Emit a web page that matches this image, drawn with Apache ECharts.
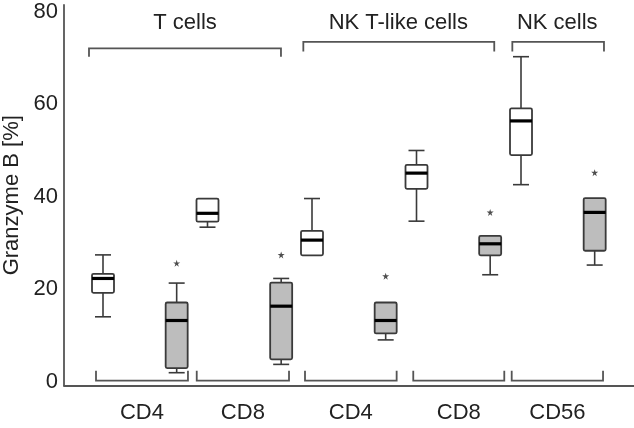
<!DOCTYPE html>
<html>
<head>
<meta charset="utf-8">
<script src="https://cdn.jsdelivr.net/npm/echarts@6/dist/echarts.min.js"></script>
<style>html,body{margin:0;padding:0;background:#fff;}#c{width:634px;height:428px;}</style>
</head>
<body>
<div id="c"></div>
<script>
// ---- data ----
const subsetLabels = ['CD4', 'CD8', 'CD4', 'CD8', 'CD56'];
const cellTypes = ['T cells', 'NK T-like cells', 'NK cells'];
// [min, Q1, median, Q3, max]
const whiteBoxes = [
  [14.0, 19.2, 22.3, 23.3, 27.4],
  [33.4, 34.6, 36.4, 39.6, 39.6],
  [27.3, 27.3, 30.6, 32.6, 39.6],
  [34.7, 41.7, 45.1, 46.9, 50.0],
  [42.6, 49.0, 56.4, 59.1, 70.3]
];
const grayBoxes = [
  [1.9, 2.9, 13.2, 17.1, 21.3],
  [3.7, 4.8, 16.3, 21.4, 22.3],
  [9.0, 10.4, 13.2, 17.1, 17.1],
  [23.1, 27.3, 29.8, 31.5, 31.5],
  [25.2, 28.3, 36.6, 39.7, 39.7]
];
const grayOutliers = [25.6, 27.4, 22.8, 36.6, 45.2];
const yTicks = [0, 20, 40, 60, 80];

// ---- annotation layout (axis units) ----
const grayOffset = 0.705;
const bottomBrackets = [[-0.067, 0.813], [0.897, 1.780], [1.933, 2.810], [2.969, 3.840], [3.911, 4.785]];
const topBrackets = [[-0.134, 1.703, 72.1, 70.3], [1.917, 3.744, 73.5, 71.4], [3.917, 4.794, 73.5, 71.4]];
const topTextX = [0.785, 2.826, 4.347];
const labelCenters = bottomBrackets.map(b => (b[0] + b[1]) / 2);

const FONT = 'Liberation Sans, Arial, Helvetica, sans-serif';
const TXT = '#222';
const LINE = '#3a3a3a';

const boxData = [];
whiteBoxes.forEach((b, i) => boxData.push([i].concat(b).concat([0])));
grayBoxes.forEach((b, i) => boxData.push([i + grayOffset].concat(b).concat([1])));

function renderBox(params, api) {
  const x = api.value(0);
  const vmin = api.value(1), q1 = api.value(2), med = api.value(3), q3 = api.value(4), vmax = api.value(5);
  const gray = api.value(6) === 1;
  const pMin = api.coord([x, vmin]), pQ1 = api.coord([x, q1]), pMed = api.coord([x, med]);
  const pQ3 = api.coord([x, q3]), pMax = api.coord([x, vmax]);
  const cx = pMin[0];
  const hw = 11, cw = 8;
  const ls = { stroke: LINE, lineWidth: 1.6 };
  const children = [];
  if (vmax > q3) {
    children.push({ type: 'line', shape: { x1: cx, y1: pQ3[1], x2: cx, y2: pMax[1] }, style: ls });
    children.push({ type: 'line', shape: { x1: cx - cw, y1: pMax[1], x2: cx + cw, y2: pMax[1] }, style: ls });
  }
  if (vmin < q1) {
    children.push({ type: 'line', shape: { x1: cx, y1: pQ1[1], x2: cx, y2: pMin[1] }, style: ls });
    children.push({ type: 'line', shape: { x1: cx - cw, y1: pMin[1], x2: cx + cw, y2: pMin[1] }, style: ls });
  }
  children.push({ type: 'rect', shape: { x: cx - hw, y: pQ3[1], width: 2 * hw, height: pQ1[1] - pQ3[1], r: 1.5 },
    style: { fill: gray ? '#bdbdbd' : '#fff', stroke: LINE, lineWidth: 1.8 } });
  children.push({ type: 'line', shape: { x1: cx - hw, y1: pMed[1], x2: cx + hw, y2: pMed[1] }, style: { stroke: '#000', lineWidth: 3.2 } });
  return { type: 'group', children: children };
}

const bracketData = [];
bottomBrackets.forEach(b => bracketData.push([b[0], b[1], 0.17, 2.3]));
topBrackets.forEach(b => bracketData.push([b[0], b[1], b[2], b[3]]));

function renderBracket(params, api) {
  const a = api.coord([api.value(0), api.value(2)]);
  const b = api.coord([api.value(1), api.value(2)]);
  const e = api.coord([api.value(0), api.value(3)]);
  return {
    type: 'polyline',
    shape: { points: [[a[0], e[1]], a, b, [b[0], e[1]]] },
    style: { stroke: '#555', lineWidth: 1.8, fill: null }
  };
}

const topTextData = cellTypes.map((t, i) => [topTextX[i], 77.7, t]);

const chart = echarts.init(document.getElementById('c'));
chart.setOption({
  animation: false,
  backgroundColor: '#fff',
  grid: { left: 64, right: 0, top: 5, bottom: 42.5, containLabel: false, outerBoundsMode: 'none' },
  xAxis: {
    type: 'value', min: -0.3732, max: 5.0813,
    splitLine: { show: false },
    axisTick: { show: false },
    axisLine: { onZero: false, lineStyle: { color: '#555', width: 1.8 } },
    axisLabel: {
      customValues: labelCenters,
      margin: 16,
      fontSize: 22, fontFamily: FONT, color: TXT,
      formatter: function (v) {
        let best = 0, d = 1e9;
        labelCenters.forEach((c, i) => { if (Math.abs(c - v) < d) { d = Math.abs(c - v); best = i; } });
        return subsetLabels[best];
      }
    }
  },
  yAxis: {
    type: 'value', min: -0.87, max: 81.49,
    name: 'Granzyme B [%]', nameLocation: 'middle', nameGap: 38,
    nameTextStyle: { fontSize: 22, fontFamily: FONT, color: TXT },
    splitLine: { show: false },
    axisTick: { show: false },
    axisLine: { onZero: false, lineStyle: { color: '#555', width: 1.8 } },
    axisLabel: { customValues: yTicks, margin: 6, fontSize: 22, fontFamily: FONT, color: TXT }
  },
  series: [
    { type: 'custom', renderItem: renderBracket, data: bracketData, silent: true },
    { type: 'custom', renderItem: renderBox, data: boxData, encode: { x: 0, y: [1, 2, 3, 4, 5] } },
    {
      type: 'scatter',
      data: grayOutliers.map((v, i) => [i + grayOffset, v]),
      symbol: 'path://M50,0 L61,35 L98,35 L68,57 L79,91 L50,70 L21,91 L32,57 L2,35 L39,35 Z',
      symbolSize: 7, itemStyle: { color: '#222' }
    },
    {
      type: 'custom', data: topTextData, silent: true,
      renderItem: function (params, api) {
        const p = api.coord([api.value(0), api.value(1)]);
        return { type: 'text', x: p[0], y: p[1],
          style: { text: cellTypes[params.dataIndex], fontSize: 22, fontFamily: FONT, fill: TXT, align: 'center', verticalAlign: 'middle' } };
      }
    }
  ]
});
</script>
</body>
</html>
